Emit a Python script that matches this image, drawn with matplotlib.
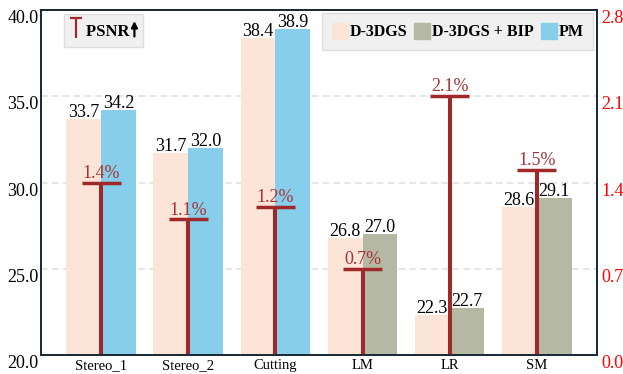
import numpy as np
import matplotlib.pyplot as plt
from matplotlib.lines import Line2D
from matplotlib.patches import Patch, FancyArrowPatch
from matplotlib.path import Path

plt.rcParams['font.family'] = ['Liberation Serif', 'DejaVu Serif']

# data
scenes = ['Stereo_1', 'Stereo_2', 'Cutting', 'LM', 'LR', 'SM']
psnr_base = [33.7, 31.7, 38.4, 26.8, 22.3, 28.6]
psnr_ours = [34.2, 32.0, 38.9, 27.0, 22.7, 29.1]
ours_method = ['PM', 'PM', 'PM', 'D-3DGS + BIP', 'D-3DGS + BIP', 'D-3DGS + BIP']
gain_pct = [1.4, 1.1, 1.2, 0.7, 2.1, 1.5]

method_names = ['D-3DGS', 'D-3DGS + BIP', 'PM']
colors = {'D-3DGS': '#fce4d6', 'D-3DGS + BIP': '#b5b8a3', 'PM': '#87ceeb'}
red = '#a0282b'
spine_col = '#1b2a35'

x = np.arange(len(scenes))
w = 0.4

fig, ax = plt.subplots(figsize=(6.23, 3.74), dpi=100)
fig.subplots_adjust(left=0.066, right=0.958, bottom=0.051, top=0.973)
ax2 = ax.twinx()

b1 = ax.bar(x - w / 2, psnr_base, w, color=colors['D-3DGS'])
b2 = ax.bar(x + w / 2, psnr_ours, w, color=[colors[m] for m in ours_method])
for bars in (b1, b2):
    for rect in bars:
        h = rect.get_height()
        ax.annotate(f'{h:.1f}', (rect.get_x() + rect.get_width() / 2, h),
                    xytext=(0, 1.5), textcoords='offset points',
                    ha='center', va='baseline', fontsize=13)

ax.set_xlim(-0.69, 5.69)
ax.set_ylim(20, 40)
ax.set_yticks([20, 25, 30, 35, 40])
ax.yaxis.set_major_formatter('{x:.1f}')
ax.set_xticks(x, scenes)
ax.tick_params(axis='x', length=0, labelsize=10.5, pad=3)
ax.tick_params(axis='y', length=0, labelsize=13, pad=2)
ax.yaxis.grid(True, linestyle=(0, (4, 2.5)), color='#e2e2e2', lw=1.2)
ax.set_axisbelow(True)

# improvement markers on the right axis
ax2.vlines(x, 0, gain_pct, color=red, lw=2.9)
ax2.hlines(gain_pct, x - 0.225, x + 0.225, color=red, lw=2.5)
for xi, p in zip(x, gain_pct):
    ax2.annotate(f'{p:.1f}%', (xi, p), xytext=(0, 3.5), textcoords='offset points',
                 ha='center', va='baseline', color='#a83236', fontsize=13)
ax2.set_ylim(0, 2.8)
ax2.set_yticks([0, 0.7, 1.4, 2.1, 2.8])
ax2.yaxis.set_major_formatter('{x:.1f}')
ax2.tick_params(axis='y', length=0, labelsize=13, pad=3, colors='red')

for lbl in ax.get_yticklabels() + ax2.get_yticklabels():
    lbl.set_va('top')

for a in (ax, ax2):
    for s in a.spines.values():
        s.set_color(spine_col)
        s.set_linewidth(1.3)

t_marker = Path([(-0.28, 0.5), (0.28, 0.5), (0, 0.5), (0, -0.5)],
                [Path.MOVETO, Path.LINETO, Path.MOVETO, Path.LINETO])
h_psnr = Line2D([], [], color=red, marker=t_marker, markersize=15,
                markeredgewidth=1.6, linestyle='none')
leg1 = ax2.legend([h_psnr], ['PSNR  '], loc='upper left', bbox_to_anchor=(0.041, 0.988),
                  borderaxespad=0, prop={'weight': 'bold', 'size': 12},
                  facecolor='#f0f0f0', edgecolor='#dddddd', fancybox=False, framealpha=1,
                  handlelength=0.7, handleheight=1.6, handletextpad=0.27, borderpad=0.35)
ax2.add_artist(leg1)

handles = [Patch(color=colors[m]) for m in method_names]
ax2.legend(handles, method_names, ncol=3, loc='upper right', bbox_to_anchor=(0.993, 0.991),
           borderaxespad=0, prop={'weight': 'bold', 'size': 11.5},
           facecolor='#f0f0f0', edgecolor='#dddddd', fancybox=False, framealpha=1,
           handlelength=1.0, handleheight=1.2, handletextpad=0.1, borderpad=0.6,
           columnspacing=0.45)

# tall arrow after "PSNR", placed from the rendered label extent
fig.canvas.draw()
renderer = fig.canvas.get_renderer()
psnr_txt = leg1.get_texts()[0]
psnr_txt.set_text('PSNR')
tb = psnr_txt.get_window_extent(renderer)
psnr_txt.set_text('PSNR  ')
arrow_x = tb.x1 + 5
fig.add_artist(FancyArrowPatch(
    (arrow_x, tb.y0 + 1), (arrow_x, tb.y1 + 6), transform=None,
    arrowstyle='-|>', mutation_scale=9, lw=1.6, color='black'))

fig.savefig('out.png', dpi=100)
